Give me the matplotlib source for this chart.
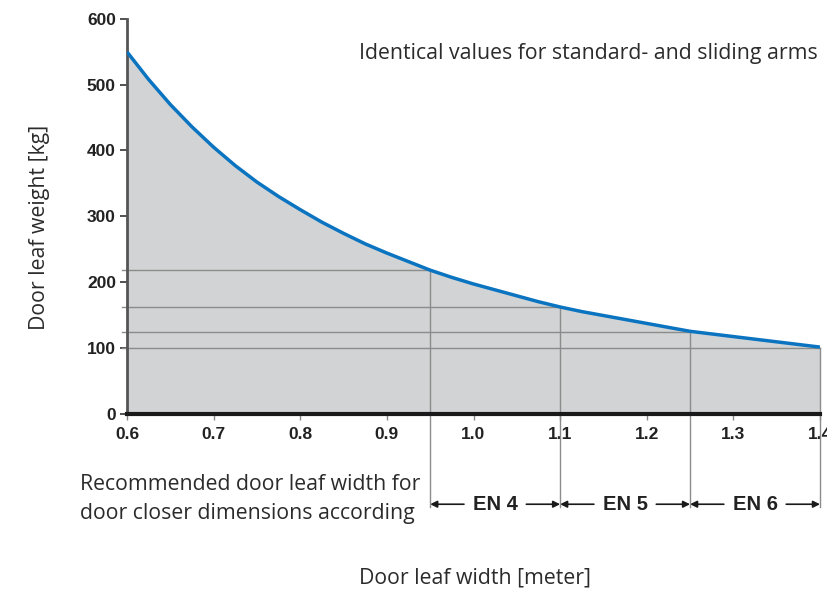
import matplotlib
matplotlib.use("Agg")
import matplotlib.pyplot as plt
from matplotlib.patches import FancyArrowPatch

# Data
width_m = [0.600, 0.625, 0.650, 0.675, 0.700, 0.725, 0.750, 0.775, 0.800,
           0.825, 0.850, 0.875, 0.900, 0.925, 0.950, 0.975, 1.000, 1.025,
           1.050, 1.075, 1.100, 1.125, 1.150, 1.175, 1.200, 1.225, 1.250,
           1.275, 1.300, 1.325, 1.350, 1.375, 1.400]
weight_kg = [550, 508, 470, 436, 405, 377, 352, 330, 310,
             291, 274, 258, 244, 231, 218, 207, 197, 188,
             179, 170, 162, 155, 149, 143, 137, 131, 125,
             121, 117, 113, 109, 105, 101]

# EN class boundaries (width) and corresponding weight levels
en_widths = [0.95, 1.10, 1.25, 1.40]
en_weights = [218, 162, 124, 100]
en_labels = ["EN 4", "EN 5", "EN 6"]

x_ticks = [0.6, 0.7, 0.8, 0.9, 1.0, 1.1, 1.2, 1.3, 1.4]
x_ticklabels = ["0.6", "0.7", "0.8", "0.9", "1.0", "1.1", "1.2", "1.3", "1.4"]
y_ticks = [0, 100, 200, 300, 400, 500, 600]

TEXT_FONT = ["Open Sans", "DejaVu Sans"]
TICK_FONT = ["Liberation Sans Narrow", "Liberation Sans", "DejaVu Sans"]
text_color = "#2b2b2b"

fig = plt.figure(figsize=(8.28, 5.94), dpi=100)
ax = fig.add_axes([127/828, 1 - 413.5/594, (820 - 127)/828, (413.5 - 19)/594])
ax.set_xlim(0.6, 1.4)
ax.set_ylim(0, 600)

ax.fill_between(width_m, weight_kg, 0, color="#d1d3d4", zorder=1, linewidth=0)

gray = "#8c8c8c"
for w, kg in zip(en_widths, en_weights):
    ax.plot([0.594, w], [kg, kg], color=gray, lw=1.0, zorder=2, clip_on=False)
    ax.plot([w, w], [kg, -142], color=gray, lw=1.0, zorder=2, clip_on=False)

ax.plot(width_m, weight_kg, color="#0b74c1", lw=2.5, zorder=3,
        solid_capstyle="butt", solid_joinstyle="round")

for s in ["top", "right"]:
    ax.spines[s].set_visible(False)
ax.spines["left"].set_color("#555555")
ax.spines["left"].set_linewidth(2.0)
ax.spines["bottom"].set_color("#1a1a1a")
ax.spines["bottom"].set_linewidth(3.0)
ax.spines["bottom"].set_zorder(4)

ax.set_xticks(x_ticks)
ax.set_xticklabels(x_ticklabels)
ax.set_yticks(y_ticks)
ax.tick_params(axis="y", direction="out", length=5, width=1.2, color="#333333", pad=3)
ax.tick_params(axis="x", direction="out", length=4, width=1.0, color="#888888", pad=6)
for lab in ax.get_xticklabels() + ax.get_yticklabels():
    lab.set_fontfamily(TICK_FONT)
    lab.set_fontsize(12.5)
    lab.set_fontweight("bold")
    lab.set_color("#222222")

# Arrows with EN labels
arrow_y = -138
for i, lab in enumerate(en_labels):
    x0, x1 = en_widths[i], en_widths[i + 1]
    xm = (x0 + x1) / 2
    gap = 0.036
    for xs, xe in [(xm - gap, x0), (xm + gap, x1)]:
        a = FancyArrowPatch((xs, arrow_y), (xe, arrow_y), arrowstyle="-|>",
                            mutation_scale=10, lw=1.2, color="#1a1a1a",
                            shrinkA=0, shrinkB=0, clip_on=False)
        ax.add_patch(a)
    ax.text(xm, arrow_y, lab, ha="center", va="center", fontsize=14.5,
            fontweight="bold", family=TICK_FONT, color="#222222", clip_on=False)

fs = 15.3
fig.text(818/828, 1 - 53/594, "Identical values for standard- and sliding arms",
         ha="right", va="center", fontsize=fs, family=TEXT_FONT, color=text_color)
fig.text(80/828, 1 - 499/594, "Recommended door leaf width for\ndoor closer dimensions according",
         ha="left", va="center", fontsize=fs, family=TEXT_FONT, color=text_color,
         linespacing=1.5)
fig.text(475/828, 1 - 578/594, "Door leaf width [meter]", ha="center", va="center",
         fontsize=fs, family=TEXT_FONT, color=text_color)
fig.text(40/828, 1 - 227/594, "Door leaf weight [kg]", ha="center", va="center",
         rotation=90, fontsize=fs, family=TEXT_FONT, color=text_color)

fig.savefig("out.png", dpi=100)
